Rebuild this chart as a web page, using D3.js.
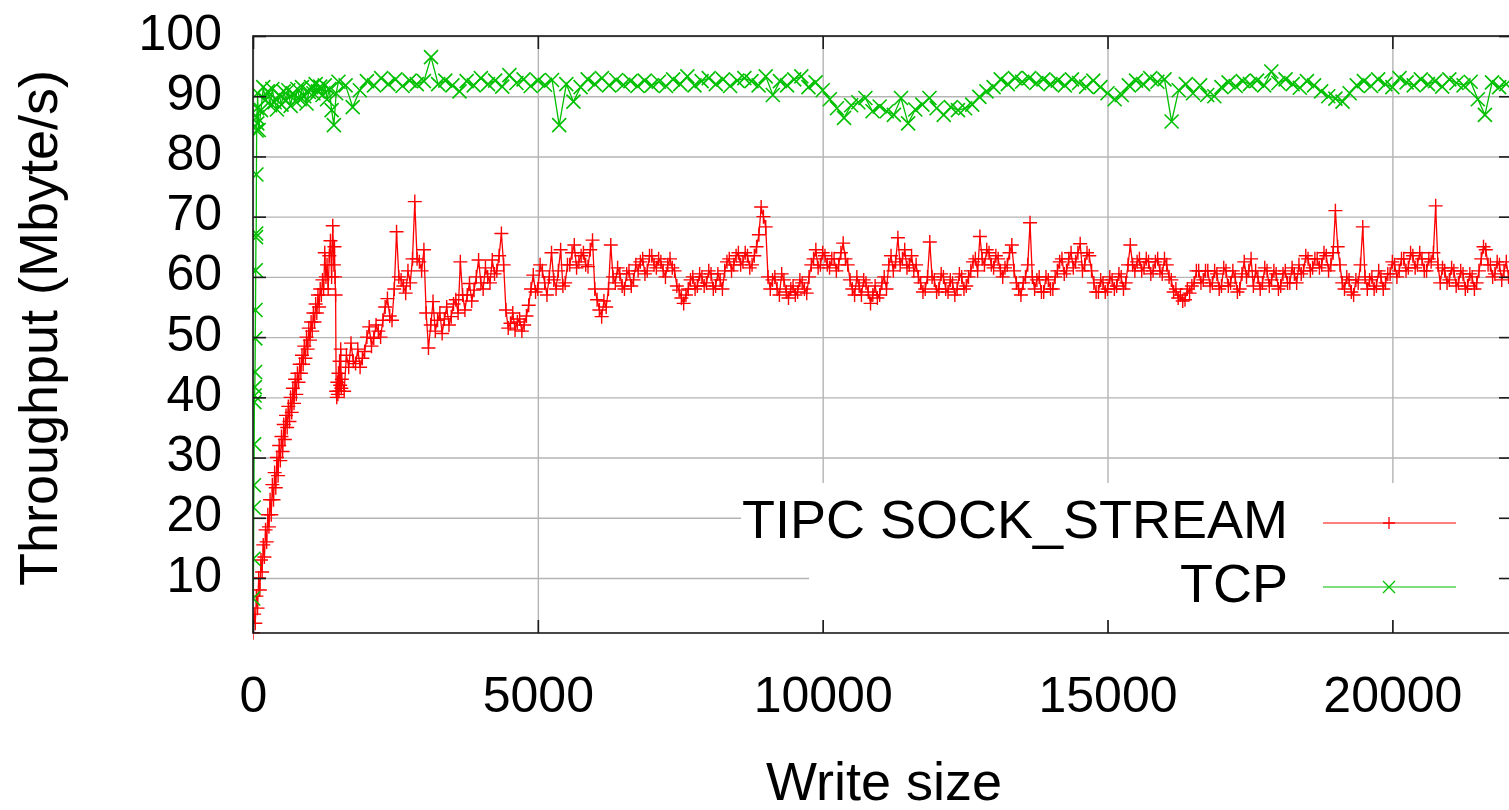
<!DOCTYPE html>
<html><head><meta charset="utf-8">
<script src="https://cdn.jsdelivr.net/npm/d3@7"></script>
<style>
html,body{margin:0;padding:0;background:#fff;}
svg{display:block;}
text{font-family:"Liberation Sans",Arial,Helvetica,sans-serif;fill:#000;}
</style>
</head><body>
<svg id="chart" width="1509" height="810"></svg>
<script>
// ---------------- data ----------------
const xTicks = [0, 5000, 10000, 15000, 20000];
const yTicks = [10, 20, 30, 40, 50, 60, 70, 80, 90, 100];
const seriesNames = ["TIPC SOCK_STREAM", "TCP"];

// TIPC SOCK_STREAM : write sizes 0..1420 step 20
const tipcDenseStart = 0, tipcDenseStep = 20;
const tipcDense = [0.9,4,2.5,7,5,10,8,13,11,15.5,13.5,18,16,20.5,18.5,23,20.5,25.5,23,27.5,
  25,30,27,32,29.5,33.5,31,35.5,33,37,35,38.5,36,40,37.5,41.5,39,43,40.5,44,
  42.5,45.5,44,47,45.5,48.5,46.5,50,48,51.5,49.5,52.5,51,54,52.5,55.5,54,57,55,58,
  57,59.5,58,64,60,62,58,63.5,66,60,68.5,62];
// TIPC : write sizes 1430..1550 step 10
const tipcDropStart = 1430, tipcDropStep = 10;
const tipcDrop = [65,60,57,41,40,42.5,40.5,44,41,46,42,48,41.5];
// TIPC : write sizes 1560.. step 40
const tipcMainStart = 1560, tipcMainStep = 40;
const tipcMain = [
  43,41,47,45,49,46,45.6,48,45,46.5,47.6,50,51.7,48.5,49.8,52,51,50,52.8,55,
  56.4,53.5,52.8,58,67.5,60,59.5,58.5,57.3,61,59,63,72.5,63,62.5,61,64.5,54,48.2,52,
  55.9,51,52.8,54,50.6,53,55,52,53.4,55.5,56.2,54,62.5,57,54.5,57,58.9,56,57.8,60,
  62.8,59,58,61.5,60,59,62.8,60.5,61,63.5,67.2,62,54.5,51.5,52.3,54,51.2,52.5,53,51,
  52,53.5,55.3,58,60.3,57.5,58,62,61,59,57,60,64,59.5,58,61,64.5,58.5,59,62,
  62,64,65.3,61.5,62.5,63.5,64,62,61.7,64.5,66.1,58,56.2,54.5,53.4,56,55,58,65.3,60,
  59,61.5,60.5,58.5,58,60.5,61,58.5,59.5,62,61,62.5,63,60.5,61,63.5,63.5,62,61.5,63,
  62.5,61,60,62,63,61.5,61,58.5,57.8,56.5,55.6,57,58,59.5,60,58,58.5,60.5,60,58.5,
  59,61,60.5,58,58.5,60.5,59.5,58,61,62.5,63,61,62,63.5,64,62,62.5,64,63.5,61.5,
  62,63.5,65,67,71.6,70,68.3,60,58,59.5,60,58,57,60.5,59.5,57.5,56.5,58,58.5,57,
  57.5,59.5,59,58,57.3,60,62,63,64.5,61.5,62,64,63.5,62,61.5,63,63,61,62,64,
  65.6,63,62,59.5,58,57,60,58.5,57,59.5,59,57.5,55.6,57,58.5,56.5,57,59,60,58,
  62,63.5,61,62.5,66.5,62,63,64.5,61.5,62,63.5,61,62,60,59,57.5,58,60,65.8,60,
  59.5,57.5,58,60.5,60,58,57.5,59.5,59,57,58,60.5,60,58,58.5,60,61,62.5,63,61,
  66.7,63,62,64.5,64,62,61.5,63.5,63,61,60,61.5,62,64,65.3,61,59,58,57,59,
  60,62,69,60,58,59.5,60,57.5,57.5,60,59.5,58,58,60,61,62.5,63,60.5,61,63,
  64,61.5,62.5,64,65.5,61,62,64,63.5,61,59,57.5,57.5,59.5,59,57.5,58,60,59.5,58,
  58.5,60.5,60,58,59,62,65.3,62,61,62.5,63,61,61.5,63,62.5,60.5,61,62.5,63,61,
  60.5,63,62,60,59.5,57.5,58,56.5,57,56,56.2,58,57.3,58.5,59,61,61,59,59.5,61,
  61,58.5,59,61,60.5,58,58.5,61.5,61,58.5,59,61,60,57.5,58,60.5,62.5,60,61,63,
  58.5,61,60,58,59,61.5,61,58.5,59.5,61,60.5,58,58.5,60.5,61,59,59,61.5,60.5,59,
  62,60.5,61,63.5,63,61,61.5,63,63,61.5,62,64,63.5,61,62,64,71,65,62,59,
  58,60,59.5,57.5,57,59.5,59,62,68.3,60,58,59.5,60,58,58.5,61,60,58,59,60.5,
  60.5,62.5,62,60,61,63,63,61,61.5,64,63.5,61.5,62,64,63,61,61,63,62.5,64,
  71.8,62,59,61.5,61,59,59.5,61.5,61,58.5,59,61,60.5,58,58.5,60.5,60,58,59,61,
  63,65,64.5,62,62,60,60.5,62.5,62,59.5,61,62.5,60];

// TCP : write sizes 4..80 step 4
const tcpRampStart = 4, tcpRampStep = 4;
const tcpRamp = [6.6,13.2,21.7,25.4,32.2,39.2,40.3,41.7,44.2,49.8,54.5,61.1,66.6,67.2,77,84.3,86.5,88,85.5,90.5];
// TCP : write sizes 100..1460 step 40
const tcpDenseStart = 100, tcpDenseStep = 40;
const tcpDense = [84.4,87.7,91.5,89.4,90.8,88.5,91.2,89,87.8,90.2,
  88.6,90.8,89.3,91,88.4,90.5,89.2,91.2,89.5,91.5,
  90,88.8,90.7,91.5,90.5,92,90.8,91.6,90.2,91.8,
  89.5,91.2,87.7,85.2,90.5];
// TCP : write sizes 1500.. step 125
const tcpMainStart = 1500, tcpMainStep = 125;
const tcpMain = [92.4,91.8,88.2,91,92.5,91.8,93,92,92.8,91.7,
  92.6,92,92.5,96.5,92,92.6,91.8,90.8,92.5,91.8,
  93,92,92.6,91.6,93.5,92.2,92.8,91.7,92.6,91.9,
  92.7,85.2,92,89.1,91.5,92.8,92,93,91.8,92.7,
  91.9,92.5,91.7,92.6,91.8,92.4,91.7,92.8,92,93.3,
  91.8,92.5,93,92,92.8,91.7,92.6,93,92.5,91.8,
  93.3,90.2,92.5,91.8,92.8,93.3,91.5,92.3,91,89.5,
  88,86.4,88.5,89,89.7,87.5,88.3,87.5,86.9,89.7,
  85.5,87.8,88.6,89.7,88,86.9,88.2,87.7,88,88.6,
  89.9,90.8,91.5,92.8,92,93,92.4,93,92.2,92.8,
  92,92.6,91.8,92.8,92.2,91.6,92.6,91.5,90.5,89.5,
  90.2,91.8,92.6,92,93,92.4,92.8,85.8,91,92,
  90.5,91.8,90.2,90,91.5,92.3,91.7,92.5,92,92.6,
  91.8,94.1,92.2,92.8,92,91.4,92.5,91.8,90.8,90,
  89.6,89.1,90.5,91.8,92.5,91.7,92.8,92,91.5,93,
  92.3,91.8,92.8,92,92.5,91.6,92.8,92.2,91.8,92.4,
  89.5,86.9,92.3,91.5,92];

// ---------------- chart ----------------
const L = 253, R = 1512, T = 36, B = 633;
const x = d3.scaleLinear().domain([0, 22100]).range([L, R]);
const y = d3.scaleLinear().domain([0.87, 100]).range([B, T]);
const svg = d3.select("#chart");
const FONT_TICK = 50, FONT_TITLE = 54;

function seg(start, step, vals) { return vals.map((v, i) => ({ x: start + i * step, y: v })); }
const tipcData = [].concat(seg(tipcDenseStart, tipcDenseStep, tipcDense),
                           seg(tipcDropStart, tipcDropStep, tipcDrop),
                           seg(tipcMainStart, tipcMainStep, tipcMain));
const tcpData = [].concat(seg(tcpRampStart, tcpRampStep, tcpRamp),
                          seg(tcpDenseStart, tcpDenseStep, tcpDense),
                          seg(tcpMainStart, tcpMainStep, tcpMain));

// grid
const gridColor = "#b4b4b4";
svg.append("g").attr("transform", `translate(0,${B})`)
  .call(d3.axisBottom(x).tickValues(xTicks).tickSize(-(B - T)).tickFormat(""))
  .call(g => { g.select(".domain").remove(); g.selectAll("line").attr("stroke", gridColor).attr("stroke-width", 1.4); });
svg.append("g").attr("transform", `translate(${L},0)`)
  .call(d3.axisLeft(y).tickValues(yTicks).tickSize(-(R - L)).tickFormat(""))
  .call(g => { g.select(".domain").remove(); g.selectAll("line").attr("stroke", gridColor).attr("stroke-width", 1.4); });

// key background (opaque)
svg.append("rect").attr("x", 741).attr("y", 483).attr("width", R - 741).attr("height", 66).attr("fill", "#fff");
svg.append("rect").attr("x", 809).attr("y", 549).attr("width", R - 809).attr("height", 71).attr("fill", "#fff");

// clip
svg.append("defs").append("clipPath").attr("id", "clip")
  .append("rect").attr("x", L).attr("y", T - 10).attr("width", R - L).attr("height", B - T + 20);

const colors = ["#ff0000", "#00c000"];
const plusPath = "M-7,0H7M0,-7V7";
const crossPath = "M-7,-7L7,7M-7,7L7,-7";
const keyPlus = "M-6,0H6M0,-6V6";
const keyCross = "M-6,-6L6,6M-6,6L6,-6";
const line = d3.line().x(d => x(d.x)).y(d => y(d.y));
const plot = svg.append("g").attr("clip-path", "url(#clip)");

function drawSeries(data, color, sym, lw, mw) {
  plot.append("path").datum(data).attr("d", line).attr("fill", "none")
    .attr("stroke", color).attr("stroke-width", lw);
  plot.append("g").selectAll("path").data(data).join("path")
    .attr("transform", d => `translate(${x(d.x)},${y(d.y)})`)
    .attr("d", sym).attr("fill", "none").attr("stroke", color).attr("stroke-width", mw);
}
drawSeries(tipcData, colors[0], plusPath, 1.3, 1.4);
drawSeries(tcpData, colors[1], crossPath, 1.3, 1.6);

// border
svg.append("rect").attr("x", L).attr("y", T).attr("width", R - L).attr("height", B - T)
  .attr("fill", "none").attr("stroke", "#1a1a1a").attr("stroke-width", 1.6);

// ticks (inward, mirrored)
const tickLen = 13;
function styleAxis(g) { g.select(".domain").remove(); g.selectAll("line").attr("stroke", "#1a1a1a").attr("stroke-width", 1.6); }
const gl = svg.append("g").attr("transform", `translate(${L},0)`)
  .call(d3.axisLeft(y).tickValues(yTicks).tickSize(-tickLen).tickPadding(31).tickFormat(d3.format("d")))
  .call(styleAxis);
gl.selectAll("text").attr("font-size", FONT_TICK).attr("dy", "0.26em").style("font-family", "Liberation Sans, Arial, sans-serif");
svg.append("g").attr("transform", `translate(${R},0)`)
  .call(d3.axisRight(y).tickValues(yTicks).tickSize(-tickLen).tickFormat(""))
  .call(styleAxis);
const gb = svg.append("g").attr("transform", `translate(0,${B})`)
  .call(d3.axisBottom(x).tickValues(xTicks).tickSize(-tickLen).tickPadding(43.5).tickFormat(d3.format("d")))
  .call(styleAxis);
gb.selectAll("text").attr("font-size", FONT_TICK).style("font-family", "Liberation Sans, Arial, sans-serif");
svg.append("g").attr("transform", `translate(0,${T})`)
  .call(d3.axisTop(x).tickValues(xTicks).tickSize(-tickLen).tickFormat(""))
  .call(styleAxis);
svg.selectAll(".tick text").attr("fill", "#000");

// axis titles
svg.append("text").attr("transform", "translate(57,328) rotate(-90)")
  .attr("text-anchor", "middle").attr("font-size", FONT_TITLE).text("Throughput (Mbyte/s)");
svg.append("text").attr("x", 884).attr("y", 800)
  .attr("text-anchor", "middle").attr("font-size", FONT_TITLE).text("Write size");

// legend
const keyRows = [523, 587];
const syms = [keyPlus, keyCross];
seriesNames.forEach((name, i) => {
  svg.append("text").attr("x", 1288).attr("y", keyRows[i] + 15)
    .attr("text-anchor", "end").attr("font-size", FONT_TITLE).text(name);
  svg.append("line").attr("x1", 1323).attr("x2", 1456).attr("y1", keyRows[i]).attr("y2", keyRows[i])
    .attr("stroke", colors[i]).attr("stroke-width", 1.2);
  svg.append("path").attr("transform", `translate(1389,${keyRows[i]})`).attr("d", syms[i])
    .attr("fill", "none").attr("stroke", colors[i]).attr("stroke-width", 1.3);
});
</script>
</body></html>
